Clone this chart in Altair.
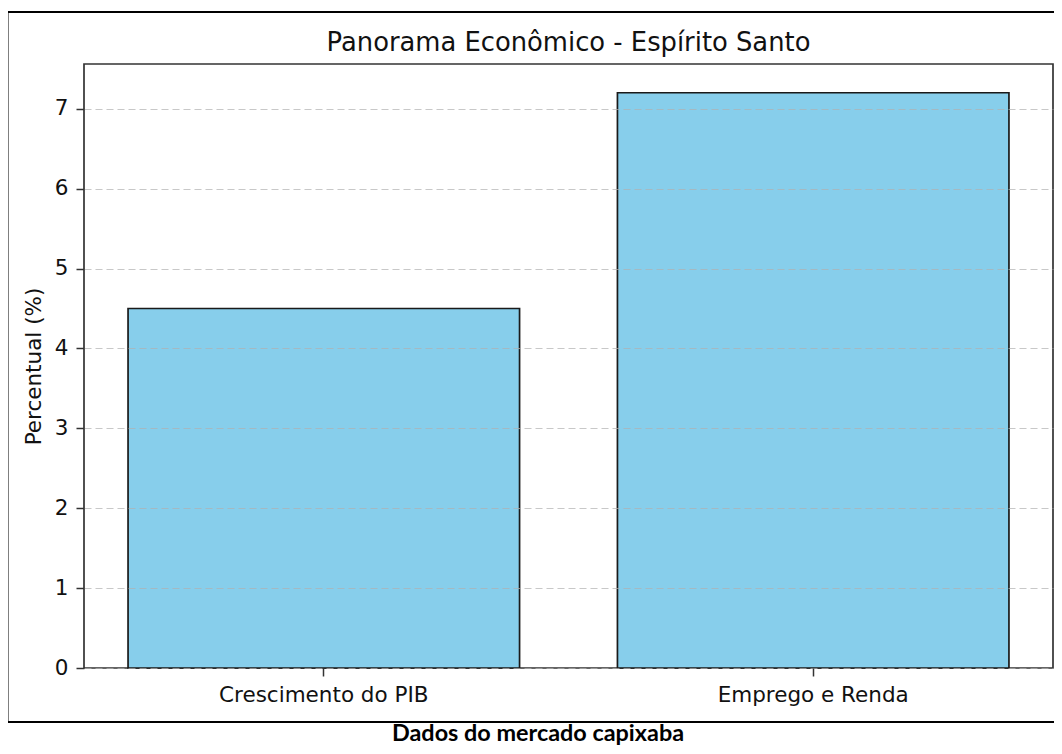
import altair as alt
import pandas as pd

# ---- data ----
categories = ["Crescimento do PIB", "Emprego e Renda"]
values = [4.5, 7.2]
y_ticks = [0, 1, 2, 3, 4, 5, 6, 7]
y_max = 7.56
chart_title = "Panorama Econômico - Espírito Santo"
y_title = "Percentual (%)"
caption = "Dados do mercado capixaba"

df = pd.DataFrame({"categoria": categories, "valor": values})
one = pd.DataFrame({"k": [0]})

W, H = 969, 604
FONT = "DejaVu Sans"

bars = alt.Chart(df).mark_bar(
    fill="#87CEEB", stroke="#1a1a1a", strokeWidth=1.7
).encode(
    x=alt.X(
        "categoria:N", sort=categories,
        scale=alt.Scale(paddingInner=0.2, paddingOuter=0.09),
        axis=alt.Axis(title=None, labelAngle=0, labelFontSize=21.5, labelFont=FONT,
                      labelColor="#111", labelLimit=0, tickSize=8, tickColor="#333",
                      tickWidth=1.5, labelPadding=8, domain=False, grid=False, zindex=1),
    ),
    y=alt.Y(
        "valor:Q",
        scale=alt.Scale(domain=[0, y_max], nice=False, zero=True),
        axis=alt.Axis(values=y_ticks, title=y_title, titleFontSize=21.5, titleFont=FONT,
                      titleFontWeight="normal", titleColor="#111", titleAngle=270,
                      titleAlign="center", titleBaseline="alphabetic", titleX=-44, titleY=H / 2,
                      labelFontSize=21.5, labelFont=FONT, labelColor="#111", labelPadding=8,
                      tickSize=8, tickColor="#333", tickWidth=1.5, domain=False,
                      grid=True, gridColor="#b0b0b0", gridOpacity=0.7, gridDash=[7, 4],
                      gridWidth=1.2, zindex=1, format="d"),
    ),
)

frame = alt.Chart(one).mark_rect(
    fillOpacity=0, stroke="black", strokeWidth=2, clip=False
).encode(
    x=alt.value(-76.5), x2=alt.value(995), y=alt.value(-52), y2=alt.value(658)
)

ttl = alt.Chart(one).mark_text(
    text=chart_title, font=FONT, fontSize=25.8, align="center",
    baseline="alphabetic", color="#111", clip=False
).encode(x=alt.value(W / 2), y=alt.value(-13))

cap = alt.Chart(one).mark_text(
    text=caption, font="Lato", fontWeight="bold", fontSize=23.4, align="center",
    baseline="alphabetic", color="black", clip=False
).encode(x=alt.value(454), y=alt.value(677))

chart = alt.layer(bars, frame, ttl, cap).properties(
    width=W, height=H,
    autosize=alt.AutoSizeParams(type="none"),
    padding={"left": 76, "top": 56, "right": 1, "bottom": 78},
).configure(background="white").configure_view(stroke="#333333", strokeWidth=1.7)

chart.save("out.html", embed_options={"renderer": "svg", "actions": False})
